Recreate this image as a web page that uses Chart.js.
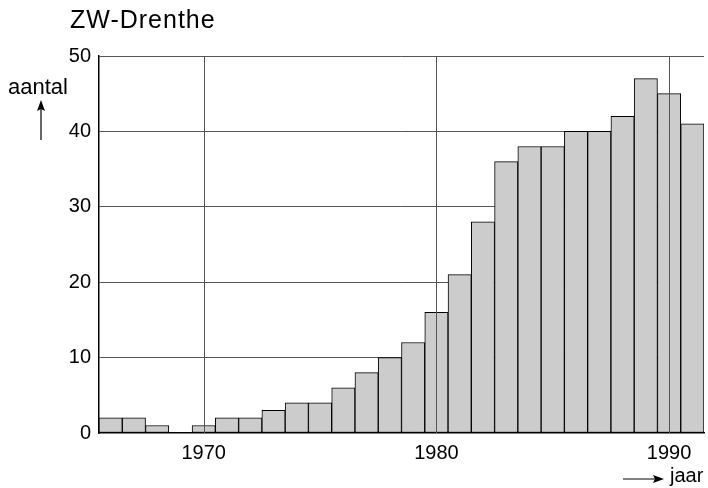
<!DOCTYPE html>
<html>
<head>
<meta charset="utf-8">
<script src="https://cdn.jsdelivr.net/npm/chart.js@4"></script>
<style>
  body { margin: 0; background: #fff; }
  #c { display: block; }
</style>
</head>
<body>
<canvas id="c" width="708" height="488"></canvas>
<script>
const years = [1966, 1967, 1968, 1969, 1970, 1971, 1972, 1973, 1974, 1975, 1976, 1977, 1978,
               1979, 1980, 1981, 1982, 1983, 1984, 1985, 1986, 1987, 1988, 1989, 1990, 1991];
const counts = [2, 2, 1, 0, 1, 2, 2, 3, 4, 4, 6, 8, 10,
                12, 16, 21, 28, 36, 38, 38, 40, 40, 42, 47, 45, 41];
const labeledYears = [1970, 1980, 1990];
const yMax = 50;
const yStep = 10;

const FONT = "'Liberation Sans', Arial, sans-serif";

// vertical year lines sit on top of the bars, horizontal ones behind
const yearLines = {
  id: 'yearLines',
  afterDatasetsDraw(chart) {
    const { ctx, chartArea, scales } = chart;
    ctx.save();
    ctx.strokeStyle = '#555';
    ctx.lineWidth = 1;
    labeledYears.forEach(y => {
      const x = Math.round(scales.x.getPixelForValue(years.indexOf(y))) + 0.5;
      ctx.beginPath();
      ctx.moveTo(x, chartArea.top);
      ctx.lineTo(x, chartArea.bottom);
      ctx.stroke();
    });
    ctx.restore();
  }
};

function arrowHead(ctx, x, y, dir) {
  ctx.beginPath();
  if (dir === 'up') {
    ctx.moveTo(x, y);
    ctx.lineTo(x - 4, y + 11);
    ctx.lineTo(x, y + 9);
    ctx.lineTo(x + 4, y + 11);
  } else {
    ctx.moveTo(x, y);
    ctx.lineTo(x - 11, y - 4);
    ctx.lineTo(x - 9, y);
    ctx.lineTo(x - 11, y + 4);
  }
  ctx.closePath();
  ctx.fill();
}

const decorations = {
  id: 'decorations',
  afterDraw(chart) {
    const ctx = chart.ctx;
    ctx.save();
    ctx.fillStyle = '#000';
    ctx.strokeStyle = '#000';
    ctx.textBaseline = 'alphabetic';
    ctx.textAlign = 'left';

    ctx.font = '25px ' + FONT;
    ctx.letterSpacing = '1px';
    ctx.fillText('ZW-Drenthe', 70, 28);
    ctx.letterSpacing = '0px';

    ctx.font = '22px ' + FONT;
    ctx.fillText('aantal', 8, 94);
    ctx.lineWidth = 1.2;
    ctx.beginPath();
    ctx.moveTo(41, 140);
    ctx.lineTo(41, 106);
    ctx.stroke();
    arrowHead(ctx, 41, 100, 'up');

    ctx.font = '20px ' + FONT;
    ctx.fillText('jaar', 670, 482);
    ctx.beginPath();
    ctx.moveTo(623, 479);
    ctx.lineTo(658, 479);
    ctx.stroke();
    arrowHead(ctx, 664, 479, 'right');
    ctx.restore();
  }
};

new Chart(document.getElementById('c'), {
  type: 'bar',
  data: {
    labels: years,
    datasets: [{
      data: counts,
      backgroundColor: '#cccccc',
      borderColor: '#000',
      borderWidth: 1,
      borderSkipped: false,
      barPercentage: 1,
      categoryPercentage: 1
    }]
  },
  options: {
    responsive: false,
    animation: false,
    layout: { padding: { top: 56, right: 4, left: 0, bottom: 0 } },
    plugins: {
      legend: { display: false },
      tooltip: { enabled: false }
    },
    scales: {
      x: {
        grid: { display: false, drawTicks: false },
        border: { display: true, color: '#000', width: 1.5 },
        ticks: {
          autoSkip: false,
          maxRotation: 0,
          padding: 8,
          color: '#000',
          font: { family: FONT, size: 20 },
          callback: function (value) {
            const y = years[value];
            return labeledYears.includes(y) ? String(y) : '';
          }
        },
        afterFit: s => { s.height = 55; }
      },
      y: {
        min: 0,
        max: yMax,
        grid: {
          drawTicks: false,
          color: ctx => ctx.tick && ctx.tick.value === 0 ? 'rgba(0,0,0,0)' : '#555',
          lineWidth: 1
        },
        border: { display: true, color: '#000', width: 1.5 },
        ticks: {
          stepSize: yStep,
          padding: 8,
          color: '#000',
          font: { family: FONT, size: 20 }
        },
        afterFit: s => { s.width = 99; }
      }
    }
  },
  plugins: [yearLines, decorations]
});
</script>
</body>
</html>
